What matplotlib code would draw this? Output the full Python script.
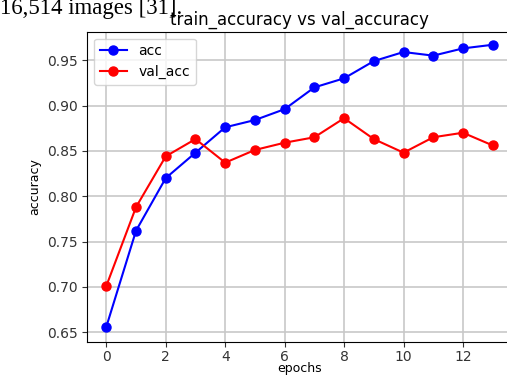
import matplotlib
matplotlib.use("Agg")
import matplotlib.pyplot as plt

epochs = list(range(14))
acc = [0.656, 0.762, 0.820, 0.848, 0.876, 0.884, 0.896, 0.920, 0.930, 0.949, 0.959, 0.955, 0.963, 0.967]
val_acc = [0.701, 0.788, 0.844, 0.863, 0.837, 0.851, 0.859, 0.865, 0.886, 0.863, 0.848, 0.865, 0.870, 0.856]
xticks = [0, 2, 4, 6, 8, 10, 12]
yticks = [0.65, 0.70, 0.75, 0.80, 0.85, 0.90, 0.95]

fig = plt.figure(figsize=(5.07, 3.77), dpi=100)
ax = fig.add_axes([0.1716, 0.0930, 0.8383, 0.8229])
ax.plot(epochs, acc, 'b-o', label='acc', markersize=6.5, linewidth=1.5)
ax.plot(epochs, val_acc, 'r-o', label='val_acc', markersize=6.5, linewidth=1.5)
ax.set_xlim(-0.65, 13.65)
ax.set_ylim(0.6393, 0.9814)
ax.set_xticks(xticks)
ax.set_yticks(yticks)
ax.set_yticklabels([f"{v:.2f}" for v in yticks])
ax.tick_params(labelsize=10, colors='#333333', pad=3)
ax.tick_params(axis='x', pad=2)
ax.grid(True, color='#c8c8c8', linewidth=1.2)
ax.set_title('train_accuracy vs val_accuracy', fontsize=12, pad=5)
ax.set_xlabel('epochs', fontsize=9, labelpad=-1)
ax.set_ylabel('accuracy', fontsize=9)
ax.legend(loc='upper left', fontsize=10)

fig.text(0.0, 0.963, '16,514 images [31].', family='Liberation Serif', fontsize=16.5, va='baseline', ha='left')

fig.savefig('out.png', dpi=100)
